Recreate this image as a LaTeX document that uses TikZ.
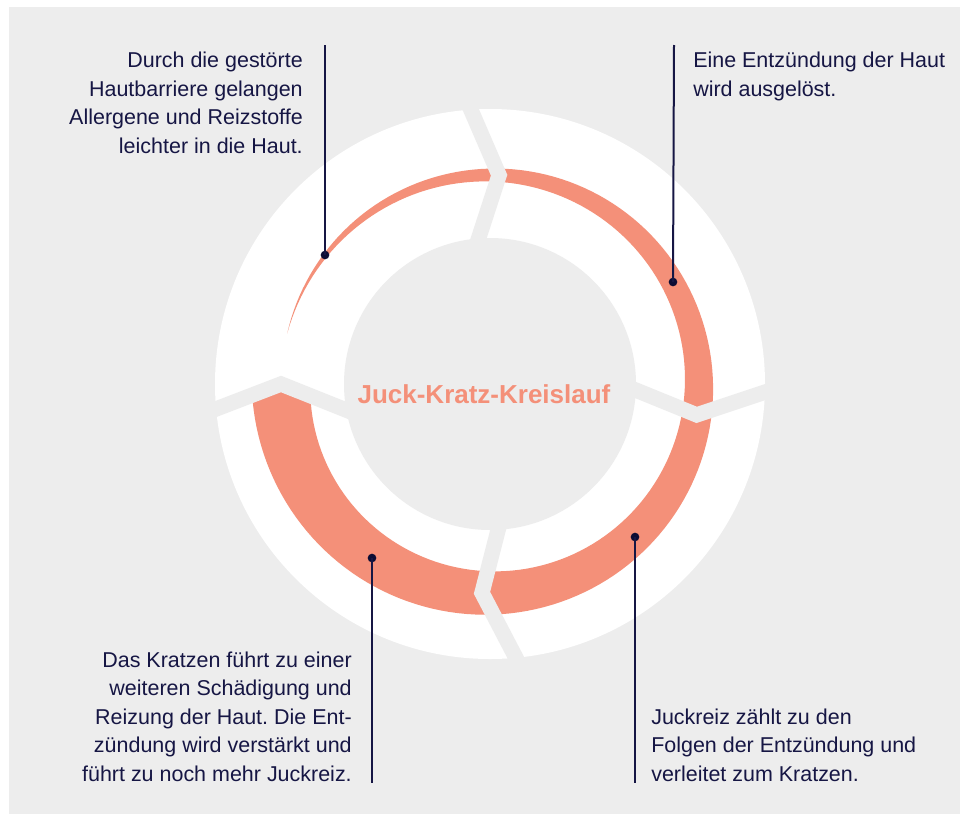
\documentclass[tikz,border=0pt]{standalone}
\usepackage{fontspec}
\setmainfont{Liberation Sans}
\frenchspacing
\usetikzlibrary{calc}
\definecolor{bggray}{RGB}{237,237,237}
\definecolor{salmon}{RGB}{244,144,121}
\definecolor{navy}{RGB}{22,22,68}
\definecolor{dotnavy}{RGB}{12,12,52}
\begin{document}
\begin{tikzpicture}[x=0.75pt,y=-0.75pt,
  body/.style={font=\fontsize{16.1}{21.4}\selectfont, text=navy, inner sep=0pt},
  leader/.style={draw=navy, line width=1.5pt},
  pin/.style={circle, fill=dotnavy, minimum size=6.5pt, inner sep=0pt},
  gap/.style={draw=bggray, line width=11.5pt, line join=miter, miter limit=10},
  title/.style={font=\fontsize{19.5}{23}\selectfont\bfseries, text=salmon, inner sep=0pt}]
\useasboundingbox (0,0) rectangle (960,814);
% background panel
\fill[bggray] (9,7) rectangle (960,814);
\coordinate (c) at (490,384);
% white ring
\fill[white] (c) circle[radius=275];
% growing band, clockwise from the upper left
\fill[salmon]
  plot[domain=166:-178, samples=160, variable=\a]
    ({490+(209+0.0847*(166-\a))*cos(\a)}, {384-(209+0.0847*(166-\a))*sin(\a)})
  -- ({490+209*cos(180)}, {384-209*sin(180)})
  -- plot[domain=-175.6:166, samples=160, variable=\a]
    ({490+(209-0.0847*(166-\a))*cos(\a)}, {384-(209-0.0847*(166-\a))*sin(\a)})
  -- cycle;
% chevron gaps between the four ring segments
\foreach \o/\b/\i [count=\k] in {94/87.5/94.5, -1.7/-8.5/-2.4, -84.6/-92.2/-86.8, 185.2/180/190.3}{
  \coordinate (go\k) at ({490+275*cos(\o)}, {384-275*sin(\o)});
  \coordinate (gb\k) at ({490+209*cos(\b)}, {384-209*sin(\b)});
  \coordinate (gi\k) at ({490+146*cos(\i)}, {384-146*sin(\i)});
  \draw[gap] ($(gb\k)!1.4!(go\k)$) -- (gb\k) -- ($(gb\k)!1.4!(gi\k)$);
}
% inner disc
\fill[bggray] (c) circle[radius=146];
\node[title] (ttl) at (484,394) {Juck-Kratz-Kreislauf};
% pins on the band
\node[pin] (d1) at (325,255) {};
\node[pin] (d2) at (673,282) {};
\node[pin] (d3) at (635,537) {};
\node[pin] (d4) at (372,558) {};
\coordinate (e1) at (325,45);
\coordinate (e2) at (674,45);
\coordinate (e3) at (635,783);
\coordinate (e4) at (372,783);
\draw[leader] (d1.center) -- (e1);
\draw[leader] (d2.center) -- (e2);
\draw[leader] (d3.center) -- (e3);
\draw[leader] (d4.center) -- (e4);
% captions
\node[body, align=right, anchor=north east] (t1) at (303,52)
  {Durch die gestörte\\Hautbarriere gelangen\\Allergene und Reizstoffe\\leichter in die Haut.};
\node[body, align=left, anchor=north west] (t2) at (693,52)
  {Eine Entzündung der Haut\\wird ausgelöst.};
\node[body, align=left, anchor=north west] (t3) at (651,708.5)
  {Juckreiz zählt zu den\\Folgen der Entzündung und\\verleitet zum Kratzen.};
\node[body, align=right, anchor=north east] (t4) at (352,651.5)
  {Das Kratzen führt zu einer\\weiteren Schädigung und\\Reizung der Haut. Die Ent-\\zündung wird verstärkt und\\führt zu noch mehr Juckreiz.};
\end{tikzpicture}
\end{document}
